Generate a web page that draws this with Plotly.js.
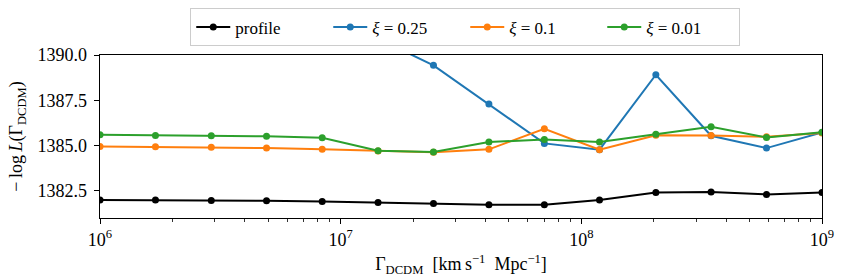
<!DOCTYPE html>
<html>
<head>
<meta charset="utf-8">
<script src="https://cdn.plot.ly/plotly-3.0.1.min.js"></script>
<style>html,body{margin:0;padding:0;background:#fff;}#chart{width:843px;height:277px;}</style>
</head>
<body>
<div id="chart"></div>
<script>
// Gamma_DCDM grid (km s^-1 Mpc^-1)
var gamma = [1.0e6, 1.70e6, 2.90e6, 4.92e6, 8.38e6, 1.43e7, 2.43e7, 4.13e7, 7.02e7, 1.19e8, 2.04e8, 3.46e8, 5.88e8, 1.0e9];
// -log L values
var profile  = [1381.99, 1381.99, 1381.97, 1381.95, 1381.91, 1381.86, 1381.80, 1381.73, 1381.73, 1382.00, 1382.41, 1382.43, 1382.30, 1382.41];
var xi025    = [1396.0, 1394.5, 1393.3, 1392.3, 1391.5, 1390.9, 1389.43, 1387.29, 1385.12, 1384.77, 1388.91, 1385.54, 1384.86, 1385.72];
var xi01     = [1384.95, 1384.93, 1384.90, 1384.86, 1384.79, 1384.70, 1384.63, 1384.79, 1385.93, 1384.77, 1385.57, 1385.56, 1385.48, 1385.70];
var xi001    = [1385.59, 1385.56, 1385.54, 1385.51, 1385.43, 1384.71, 1384.64, 1385.19, 1385.34, 1385.19, 1385.63, 1386.04, 1385.45, 1385.74];
var seriesNames = ['profile', '<i>ξ</i> = 0.25', '<i>ξ</i> = 0.1', '<i>ξ</i> = 0.01'];
var xTickVals = [1e6, 1e7, 1e8, 1e9];
var xTickText = ['10<sup>6</sup>', '10<sup>7</sup>', '10<sup>8</sup>', '10<sup>9</sup>'];
var xMinorTickVals = [2e6, 3e6, 4e6, 5e6, 6e6, 7e6, 8e6, 9e6,
                      2e7, 3e7, 4e7, 5e7, 6e7, 7e7, 8e7, 9e7,
                      2e8, 3e8, 4e8, 5e8, 6e8, 7e8, 8e8, 9e8];
var yTickVals = [1382.5, 1385.0, 1387.5, 1390.0];
var yTickText = ['1382.5', '1385.0', '1387.5', '1390.0'];

var colors = ['#000000', '#1f77b4', '#ff7f0e', '#2ca02c'];
var ys = [profile, xi025, xi01, xi001];
var traces = ys.map(function(y, i){
  return {x: gamma, y: y, name: seriesNames[i], type: 'scatter', mode: 'lines+markers',
          line: {color: colors[i], width: 2}, marker: {color: colors[i], size: 7}, cliponaxis: true};
});
var serif = "Times New Roman, Liberation Serif, serif";
var layout = {
  width: 843, height: 277,
  margin: {l: 100, r: 21, t: 55, b: 59, autoexpand: false},
  paper_bgcolor: '#fff', plot_bgcolor: '#fff',
  font: {family: serif, color: '#000', size: 18},
  showlegend: true,
  legend: {orientation: 'h', x: 0.125, xanchor: 'left', y: 1.169, yanchor: 'middle',
           entrywidth: 88, entrywidthmode: 'pixels', itemwidth: 34,
           bordercolor: '#cccccc', borderwidth: 1, bgcolor: '#fff', font: {family: serif, size: 17}},
  xaxis: {type: 'log', range: [6, 9], showgrid: false, zeroline: false, automargin: false,
          showline: true, linecolor: '#000', linewidth: 1.3, mirror: true,
          ticks: 'outside', ticklen: 5, tickcolor: '#000', tickwidth: 1,
          tickmode: 'array', tickvals: xTickVals, ticktext: xTickText, tickfont: {family: serif, size: 18},
          minor: {tickmode: 'array', tickvals: xMinorTickVals, ticks: 'outside', ticklen: 3, tickcolor: '#000', tickwidth: 0.8, showgrid: false},
          title: {text: 'Γ<sub>DCDM</sub>\u2002[km\u2009s<sup>−1</sup>\u2002Mpc<sup>−1</sup>]', font: {family: serif, size: 18}, standoff: 12}},
  yaxis: {range: [1381.0, 1390.0], showgrid: false, zeroline: false, automargin: false,
          showline: true, linecolor: '#000', linewidth: 1.3, mirror: true,
          ticks: 'outside', ticklen: 5, tickcolor: '#000', tickwidth: 1, ticklabelstandoff: 3,
          tickmode: 'array', tickvals: yTickVals, ticktext: yTickText, tickfont: {family: serif, size: 18},
          title: {text: '−\u2009log\u2009<i>L</i>(Γ<sub>DCDM</sub>)', font: {family: serif, size: 18}, standoff: 10}}
};
Plotly.newPlot('chart', traces, layout, {displayModeBar: false, staticPlot: true});
</script>
</body>
</html>
